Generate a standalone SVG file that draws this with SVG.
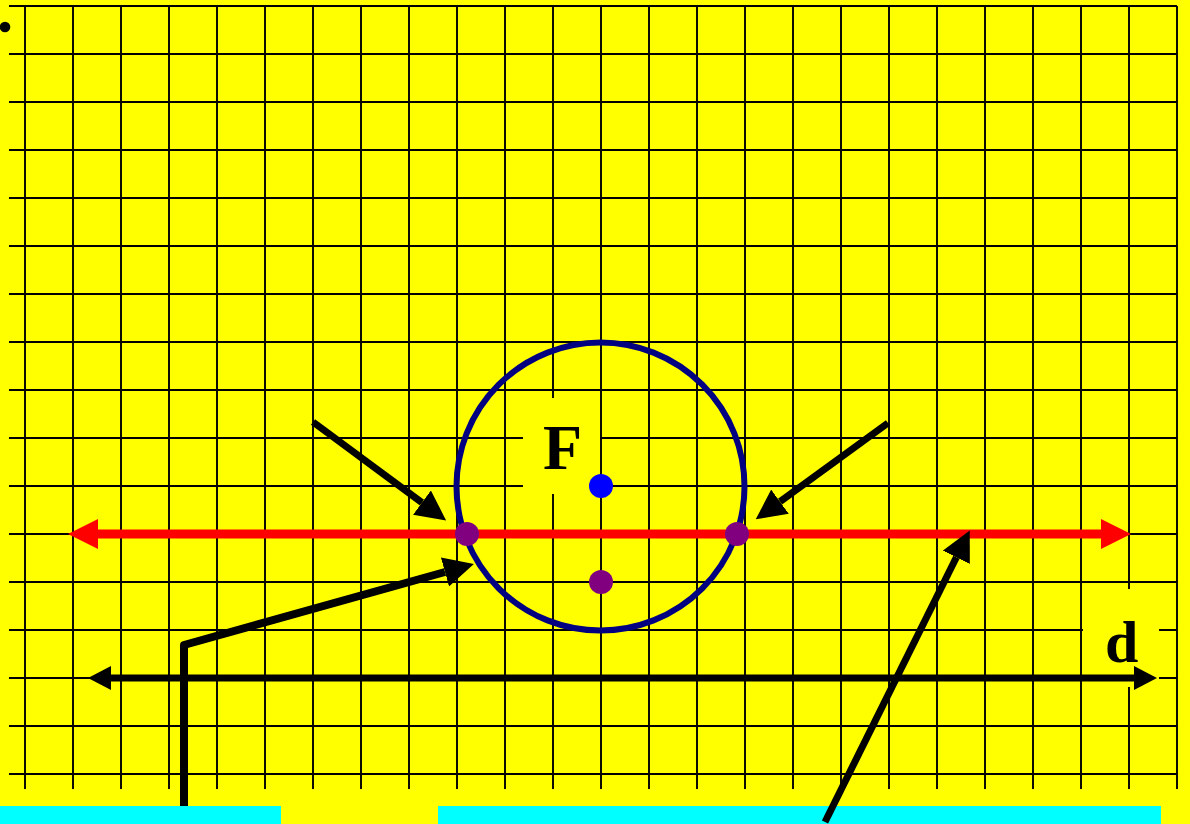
<svg xmlns="http://www.w3.org/2000/svg" width="1190" height="824" viewBox="0 0 1190 824">
<style>
.grid line{stroke:#000;stroke-width:1.9}
.lbl{font-family:"Liberation Serif","Times New Roman",serif;font-weight:bold;fill:#000}
.bg{fill:#FFFF00}
.arr{stroke:#000;fill:none;stroke-linejoin:round}
</style>
<defs>
<marker id="hb" markerUnits="userSpaceOnUse" markerWidth="30" markerHeight="30" refX="0" refY="13" orient="auto-start-reverse" viewBox="0 0 26 26"><path d="M0,0 L26,13 L0,26 z" fill="#000"/></marker>
<marker id="hr" markerUnits="userSpaceOnUse" markerWidth="30" markerHeight="30" refX="0" refY="13" orient="auto-start-reverse" viewBox="0 0 26 26"><path d="M0,0 L26,13 L0,26 z" fill="#FF0000"/></marker>
<marker id="hd" markerUnits="userSpaceOnUse" markerWidth="24" markerHeight="24" refX="0" refY="12" orient="auto-start-reverse" viewBox="0 0 23 24"><path d="M0,0 L23,12 L0,24 z" fill="#000"/></marker>
</defs>
<rect x="0" y="0" width="1190" height="824" fill="#FFFF00"/>
<g id="grid" class="grid">
<line x1="9" y1="6" x2="1177" y2="6"/><line x1="9" y1="54" x2="1177" y2="54"/><line x1="9" y1="102" x2="1177" y2="102"/><line x1="9" y1="150" x2="1177" y2="150"/><line x1="9" y1="198" x2="1177" y2="198"/><line x1="9" y1="246" x2="1177" y2="246"/><line x1="9" y1="294" x2="1177" y2="294"/><line x1="9" y1="342" x2="1177" y2="342"/><line x1="9" y1="390" x2="1177" y2="390"/><line x1="9" y1="438" x2="1177" y2="438"/><line x1="9" y1="486" x2="1177" y2="486"/><line x1="9" y1="534" x2="1177" y2="534"/><line x1="9" y1="582" x2="1177" y2="582"/><line x1="9" y1="630" x2="1177" y2="630"/><line x1="9" y1="678" x2="1177" y2="678"/><line x1="9" y1="726" x2="1177" y2="726"/><line x1="9" y1="774" x2="1177" y2="774"/>
<line x1="25" y1="6" x2="25" y2="789"/><line x1="73" y1="6" x2="73" y2="789"/><line x1="121" y1="6" x2="121" y2="789"/><line x1="169" y1="6" x2="169" y2="789"/><line x1="217" y1="6" x2="217" y2="789"/><line x1="265" y1="6" x2="265" y2="789"/><line x1="313" y1="6" x2="313" y2="789"/><line x1="361" y1="6" x2="361" y2="789"/><line x1="409" y1="6" x2="409" y2="789"/><line x1="457" y1="6" x2="457" y2="789"/><line x1="505" y1="6" x2="505" y2="789"/><line x1="553" y1="6" x2="553" y2="789"/><line x1="601" y1="6" x2="601" y2="789"/><line x1="649" y1="6" x2="649" y2="789"/><line x1="697" y1="6" x2="697" y2="789"/><line x1="745" y1="6" x2="745" y2="789"/><line x1="793" y1="6" x2="793" y2="789"/><line x1="841" y1="6" x2="841" y2="789"/><line x1="889" y1="6" x2="889" y2="789"/><line x1="937" y1="6" x2="937" y2="789"/><line x1="985" y1="6" x2="985" y2="789"/><line x1="1033" y1="6" x2="1033" y2="789"/><line x1="1081" y1="6" x2="1081" y2="789"/><line x1="1129" y1="6" x2="1129" y2="789"/><line x1="1177" y1="6" x2="1177" y2="789"/>
</g>
<circle id="bullet" cx="5" cy="27" r="5.3" fill="#000"/>
<rect x="0" y="806" width="281" height="18" fill="#00FFFF"/>
<rect x="438" y="806" width="723" height="18" fill="#00FFFF"/>
<g id="label-F">
<rect class="bg" x="523" y="398" width="77" height="96"/>
<text class="lbl" x="543" y="469" font-size="64">F</text>
</g>
<g id="label-d">
<rect class="bg" x="1083" y="589" width="76" height="98"/>
<text class="lbl" x="1105" y="662" font-size="60">d</text>
</g>
<g id="circle">
<circle cx="600.5" cy="486.5" r="144" fill="none" stroke="#000080" stroke-width="6"/>
</g>
<g id="connectors">
<line x1="98" y1="534" x2="1101" y2="534" stroke="#FF0000" stroke-width="9" marker-start="url(#hr)" marker-end="url(#hr)"/>
<line x1="111" y1="678" x2="1134" y2="678" stroke="#000" stroke-width="7" marker-start="url(#hd)" marker-end="url(#hd)"/>
<line class="arr" x1="313" y1="422" x2="422" y2="502.6" stroke-width="7" marker-end="url(#hb)"/>
<line class="arr" x1="888" y1="423" x2="780" y2="501.7" stroke-width="7" marker-end="url(#hb)"/>
<polyline class="arr" points="184,806 184,645 445,572" stroke-width="8" marker-end="url(#hb)"/>
<line class="arr" x1="825" y1="822" x2="956.4" y2="557.3" stroke-width="7" marker-end="url(#hb)"/>
</g>
<g id="points">
<circle id="focus" cx="601" cy="486" r="12" fill="#0000FF"/>
<circle id="p-bottom" cx="601" cy="582" r="12" fill="#800080"/>
<circle id="p-left" cx="467" cy="534" r="12" fill="#800080"/>
<circle id="p-right" cx="737" cy="534" r="12" fill="#800080"/>
</g>
</svg>
